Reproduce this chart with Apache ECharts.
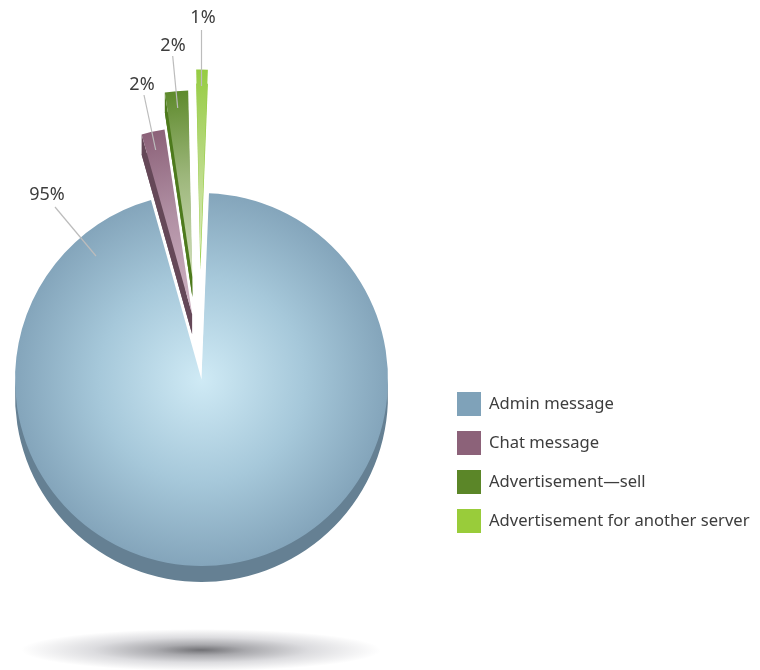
<!DOCTYPE html>
<html>
<head>
<meta charset="utf-8">
<style>html,body{margin:0;padding:0;background:#fff}#chart{width:760px;height:670px}</style>
<script src="https://cdn.jsdelivr.net/npm/echarts@6/dist/echarts.min.js"></script>
</head>
<body>
<div id="chart"></div>
<script>
// Message categories and their share in percent
const categories = ['Admin message', 'Chat message', 'Advertisement\u2014sell', 'Advertisement for another server'];
const shares = [95, 2, 2, 1];

// Flat key colours, and the stops of each slice's shading (centre to rim), then side walls
const keyColors = ['#7fa2b9', '#8c6279', '#5b8628', '#99cc3a'];
const faceColors = [['#cfeaf5', '#a6c8da', '#84a5bb'], ['#d0b4c4', '#b08fa3', '#8c6279'], ['#d3e0bc', '#9cb67a', '#5e8a2c'], ['#dcebbb', '#b5d87c', '#96cc42']];
const wallColors = ['#658093', '#654858', '#4d7a1c', '#96cc42'];

// Where each slice sits: pie centre, radius, wall depth
const centers = [[201.5, 379.5], [192.1, 314], [192.4, 277], [200.4, 256]];
const radius = 186.5;
const wallDepths = [16, 20, 20, 14];

// Label anchor points and leader lines
const labelSpots = [[47, 195], [142, 85], [173, 46], [203, 18]];
const leaders = [[[55, 207], [96, 256]], [[144, 95], [155.7, 150]], [[172.7, 56], [177.7, 108]], [[201.5, 30], [201.5, 86]]];

const firstBearing = 2.3;
const fontFamily = '"Noto Sans", sans-serif';
const total = shares.reduce((a, b) => a + b, 0);

// Clockwise bearing from 12 o'clock at which each slice begins
const bearings = [];
shares.reduce((acc, v, i) => { bearings[i] = acc; return acc + v / total * 360; }, firstBearing);

function shading(i) {
  const [x, y] = centers[i];
  const [a, b, c] = faceColors[i];
  return {
    type: 'radial', x, y, r: radius, global: true,
    colorStops: [{ offset: 0, color: a }, { offset: 0.55, color: b }, { offset: 1, color: c }]
  };
}

// One slice as its own pie, so it can be pulled away from the centre.
// isFace=false draws the darker wall underneath, shifted down by the slice's depth.
function pieFor(i, isFace) {
  const rest = { value: total - shares[i], name: '', itemStyle: { color: 'transparent' }, label: { show: false }, labelLine: { show: false } };
  return {
    type: 'pie',
    silent: true,
    animation: false,
    clockwise: true,
    startAngle: 90 - bearings[i],
    center: [centers[i][0], centers[i][1] + (isFace ? 0 : wallDepths[i])],
    radius: [0, radius],
    avoidLabelOverlap: false,
    z: isFace ? 3 : 2,
    label: isFace ? {
      show: true, position: 'outside', formatter: '{d}%',
      color: '#3d3d3d', fontSize: 18, fontFamily
    } : { show: false },
    labelLine: { show: false },
    labelLayout: isFace ? { x: labelSpots[i][0], y: labelSpots[i][1], align: 'center', verticalAlign: 'middle' } : undefined,
    data: [
      { value: shares[i], name: isFace ? categories[i] : '', itemStyle: { color: isFace ? shading(i) : wallColors[i] } },
      rest
    ]
  };
}

// Joins a pulled-out slice's leading edge to the same edge on its shifted wall
function renderEdgeWall(params, api) {
  const i = api.value(0);
  const [cx, cy] = centers[i];
  const a = bearings[i] * Math.PI / 180;
  const px = cx + radius * Math.sin(a);
  const py = cy - radius * Math.cos(a);
  const d = wallDepths[i];
  return {
    type: 'polygon',
    shape: { points: [[px, py], [px, py + d], [cx, cy + d], [cx, cy]] },
    style: { fill: wallColors[i] }
  };
}

function renderLeaders(params, api) {
  const l = leaders[api.value(0)];
  return {
    type: 'line',
    shape: { x1: l[0][0], y1: l[0][1], x2: l[1][0], y2: l[1][1] },
    style: { stroke: '#bcbcbc', lineWidth: 1.2 }
  };
}

const series = [];
categories.forEach((_, i) => series.push(pieFor(i, false)));
series.push({
  type: 'custom', coordinateSystem: 'none', silent: true, animation: false, z: 2,
  renderItem: renderEdgeWall, data: [[1], [2]]
});
categories.forEach((_, i) => series.push(pieFor(i, true)));
series.push({
  type: 'custom', coordinateSystem: 'none', silent: true, animation: false, z: 4,
  renderItem: renderLeaders, data: shares.map((_, i) => [i])
});

const chart = echarts.init(document.getElementById('chart'), null, { renderer: 'canvas' });
chart.setOption({
  backgroundColor: '#ffffff',
  animation: false,
  legend: {
    orient: 'vertical',
    left: 452, top: 387,
    itemWidth: 24, itemHeight: 24, itemGap: 15,
    icon: 'rect',
    selectedMode: false,
    textStyle: { color: '#3d3d3d', fontSize: 16.6, fontFamily, padding: [0, 0, 0, 3] },
    data: categories.map((name, i) => ({ name, itemStyle: { color: keyColors[i] } }))
  },
  // Soft floor shadow: a circle squashed into a flat ellipse
  graphic: [{
    type: 'circle', x: 201, y: 650, scaleX: 1, scaleY: 21 / 180, silent: true, z: 0,
    shape: { cx: 0, cy: 0, r: 180 },
    style: {
      fill: {
        type: 'radial', x: 0.5, y: 0.5, r: 0.5,
        colorStops: [
          { offset: 0, color: '#717175' },
          { offset: 0.25, color: '#a9a9ad' },
          { offset: 0.6, color: '#dcdcdf' },
          { offset: 1, color: '#ffffff' }
        ]
      }
    }
  }],
  series
});
</script>
</body>
</html>
